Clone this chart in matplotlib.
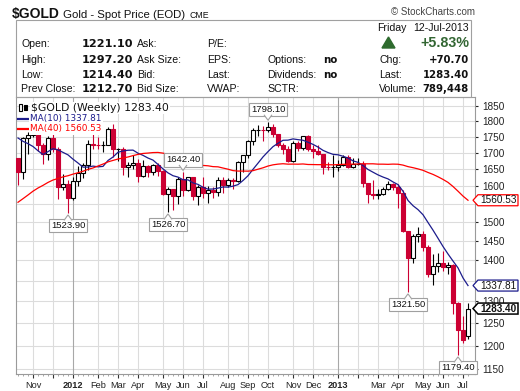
import matplotlib
matplotlib.use('Agg')
import matplotlib.pyplot as plt
from matplotlib.patches import Polygon, Rectangle
from matplotlib.lines import Line2D
from matplotlib.ticker import FixedLocator, NullLocator

plt.rcParams['font.family'] = ['Liberation Sans', 'DejaVu Sans']

# ---------------- data: $GOLD weekly, week of 17-Oct-2011 .. week of 08-Jul-2013 ----------------
prior_close = 1683
opens = [1683, 1642, 1747, 1755, 1788, 1724, 1696, 1746, 1712, 1598,
         1606, 1566, 1616, 1639, 1664, 1726, 1725, 1724, 1725, 1776,
         1711, 1711, 1656, 1662, 1668, 1631, 1659, 1642, 1663, 1644,
         1579, 1592, 1572, 1622, 1590, 1627, 1572, 1598, 1580, 1589,
         1583, 1618, 1604, 1619, 1617, 1672, 1692, 1737, 1771, 1773,
         1772, 1780, 1758, 1724, 1711, 1676, 1731, 1714, 1751, 1712,
         1705, 1696, 1657, 1656, 1656, 1662, 1687, 1658, 1667, 1667,
         1609, 1578, 1576, 1577, 1592, 1608, 1598, 1581, 1476, 1405,
         1462, 1469, 1435, 1365, 1387, 1393, 1383, 1388, 1297, 1234,
         1221.1]
highs = [1685, 1748, 1766, 1802, 1797, 1730, 1753, 1763, 1717, 1637,
         1619, 1626, 1660, 1670, 1741, 1764, 1750, 1737, 1782, 1792,
         1714, 1717, 1671, 1692, 1680, 1677, 1662, 1667, 1669, 1647,
         1598, 1594, 1627, 1642.4, 1628, 1628, 1605, 1626, 1600, 1597,
         1628, 1628, 1624, 1625, 1675, 1693, 1741, 1778, 1788, 1786,
         1798.1, 1791, 1760, 1730, 1722, 1738, 1738, 1754, 1755, 1723,
         1723, 1697, 1673, 1693, 1679, 1694, 1693, 1684, 1685, 1674,
         1611, 1620, 1592, 1597, 1616, 1611, 1606, 1589, 1477, 1469,
         1488, 1475, 1440, 1417, 1420, 1424, 1397, 1391, 1299, 1267,
         1297.2]
lows = [1604, 1621, 1697, 1749, 1706, 1667, 1678, 1703, 1563, 1590,
        1523.9, 1562, 1600, 1625, 1648, 1711, 1713, 1704, 1724, 1688,
        1674, 1634, 1627, 1651, 1613, 1627, 1626, 1632, 1631, 1576,
        1526.7, 1532, 1549, 1573, 1587, 1562, 1547, 1566, 1554, 1566,
        1573, 1582, 1598, 1593, 1613, 1641, 1683, 1723, 1752, 1738,
        1764, 1750, 1718, 1697, 1673, 1673, 1705, 1709, 1705, 1684,
        1692, 1636, 1647, 1626, 1645, 1661, 1653, 1654, 1662, 1598,
        1554, 1565, 1563, 1574, 1590, 1590, 1539, 1474, 1321.5, 1394,
        1448, 1423, 1359, 1338, 1372, 1373, 1366, 1270, 1179.4, 1207,
        1214.4]
closes = [1642, 1747, 1755, 1788, 1724, 1696, 1746, 1712, 1598, 1606,
          1566, 1616, 1639, 1664, 1726, 1725, 1724, 1725, 1776, 1711,
          1711, 1656, 1662, 1668, 1631, 1659, 1642, 1663, 1644, 1579,
          1592, 1572, 1622, 1590, 1627, 1572, 1598, 1580, 1589, 1583,
          1618, 1604, 1619, 1617, 1672, 1692, 1737, 1771, 1773, 1772,
          1780, 1758, 1724, 1711, 1676, 1731, 1714, 1751, 1712, 1705,
          1696, 1657, 1656, 1656, 1662, 1687, 1658, 1667, 1667, 1609,
          1578, 1576, 1577, 1592, 1608, 1598, 1581, 1476, 1405, 1462,
          1469, 1435, 1365, 1387, 1393, 1383, 1388, 1297, 1234, 1212.7,
          1283.4]
ma10 = [1746.2, 1735.7, 1728.4, 1719.6, 1706.4, 1694.7, 1703.7, 1712.9, 1709.1, 1701.4,
        1693.8, 1680.7, 1669.1, 1656.7, 1656.9, 1659.8, 1657.6, 1658.9, 1676.7, 1687.2,
        1701.7, 1705.7, 1708.0, 1708.4, 1698.9, 1692.3, 1684.1, 1677.9, 1664.7, 1651.5,
        1639.6, 1631.2, 1627.2, 1619.4, 1619.0, 1610.3, 1605.9, 1597.6, 1592.1, 1592.5,
        1595.1, 1598.3, 1598.0, 1600.7, 1605.2, 1617.2, 1631.1, 1650.2, 1668.6, 1687.5,
        1703.7, 1719.1, 1729.6, 1739.0, 1739.4, 1743.3, 1741.0, 1739.0, 1732.9, 1726.2,
        1717.8, 1707.7, 1700.9, 1695.4, 1694.0, 1689.6, 1684.0, 1675.6, 1671.1, 1661.5,
        1649.7, 1641.6, 1633.7, 1627.3, 1621.9, 1613.0, 1605.3, 1586.2, 1560.0, 1545.3,
        1534.4, 1520.3, 1499.1, 1478.6, 1457.1, 1435.6, 1416.3, 1398.4, 1381.3, 1356.4,
        1337.81]
ma40 = [1554.9, 1565.0, 1575.4, 1586.3, 1595.4, 1603.1, 1611.6, 1618.6, 1623.1, 1627.8,
        1631.2, 1635.9, 1640.0, 1644.5, 1650.0, 1654.2, 1660.1, 1665.9, 1672.5, 1676.9,
        1681.1, 1684.3, 1687.3, 1691.5, 1695.2, 1698.1, 1699.3, 1700.8, 1701.2, 1699.1,
        1695.3, 1688.3, 1683.2, 1676.0, 1670.3, 1664.3, 1662.8, 1661.8, 1660.7, 1658.2,
        1657.6, 1654.0, 1650.6, 1646.3, 1645.0, 1644.9, 1644.7, 1646.2, 1650.5, 1654.7,
        1660.0, 1663.6, 1665.7, 1666.9, 1665.6, 1665.8, 1665.5, 1666.2, 1664.6, 1664.4,
        1664.1, 1664.1, 1663.9, 1663.6, 1664.4, 1665.1, 1665.5, 1665.6, 1666.2, 1666.9,
        1666.6, 1666.7, 1665.6, 1665.6, 1665.1, 1665.8, 1665.4, 1662.8, 1658.2, 1655.1,
        1651.4, 1647.2, 1640.8, 1635.1, 1628.1, 1620.4, 1611.7, 1599.8, 1586.3, 1572.3,
        1560.53]

month_pos = [3, 7, 11, 16, 20, 24, 29, 33, 37, 42, 46, 50, 55, 59, 64, 68, 72, 76, 81, 85, 89]
month_labels = ['Nov', '', '2012', 'Feb', 'Mar', 'Apr', 'May', 'Jun', 'Jul', 'Aug', 'Sep',
                'Oct', 'Nov', 'Dec', '2013', '', 'Mar', 'Apr', 'May', 'Jun', 'Jul']
year_pos = [11, 64]
yticks = [1150, 1200, 1250, 1300, 1350, 1400, 1450, 1500, 1550, 1600, 1650, 1700, 1750, 1800, 1850]
# labels that sit under the value tags on the right are not shown
ytick_hidden = [1350, 1550]

# swing highs/lows that are annotated (index, below?)
marks = [(10, True), (30, True), (33, False), (50, False), (78, True), (88, True)]

header_left = [('Open:', '1221.10'), ('High:', '1297.20'), ('Low:', '1214.40'), ('Prev Close:', '1212.70')]
header_mid = ['Ask:', 'Ask Size:', 'Bid:', 'Bid Size:']
header_pe = ['P/E:', 'EPS:', 'Last:', 'VWAP:']
header_opt = [('Options:', 'no'), ('Dividends:', 'no'), ('SCTR:', '')]
header_right = [('Chg:', '+70.70'), ('Last:', '1283.40'), ('Volume:', '789,448')]

RED = '#CC0033'
NAVY = '#1C1C8C'
GRID = '#DCDCDC'

W, H = 520, 391
fig = plt.figure(figsize=(W / 100, H / 100), dpi=100)


def fxy(x, y):
    # pixel (from top-left) -> figure fraction
    return (x / W, 1 - y / H)


ax = fig.add_axes([16 / W, 1 - 374 / H, 459 / W, 277 / H])
ax.set_yscale('log')
ax.set_xlim(-0.4, 91.4)
ax.set_ylim(1140.4, 1880.3)

# grid
for v in yticks:
    ax.axhline(v, color=GRID, lw=0.8, zorder=0)
for p in month_pos:
    ax.axvline(p, color='#A8A8A8' if p in year_pos else GRID, lw=0.8, zorder=0)

# candles
x = list(range(len(closes)))
prev = [prior_close] + closes[:-1]
cols = [RED if c < p else 'black' for c, p in zip(closes, prev)]
ax.vlines(x, lows, highs, colors=cols, lw=0.8, zorder=2)
bottoms = [min(o, c) for o, c in zip(opens, closes)]
heights = [abs(c - o) for o, c in zip(opens, closes)]
faces = ['white' if c > o else col for o, c, col in zip(opens, closes, cols)]
ax.bar(x, heights, bottom=bottoms, width=0.72, color=faces, edgecolor=cols, lw=0.8, zorder=3)

# moving averages
ax.plot(x, ma10, color=NAVY, lw=0.9, zorder=4)
ax.plot(x, ma40, color='#FF0000', lw=0.9, zorder=4)

# axes styling
ax.yaxis.tick_right()
ax.yaxis.set_major_locator(FixedLocator(yticks))
ax.yaxis.set_minor_locator(NullLocator())
ax.set_yticklabels(['' if v in ytick_hidden else str(v) for v in yticks])
ax.tick_params(axis='y', length=2, pad=3, labelsize=7.2, colors='#222222')
ax.set_xticks(month_pos)
ax.set_xticklabels(month_labels)
ax.set_xticks(x, minor=True)
ax.tick_params(axis='x', which='major', length=3, pad=2, labelsize=6.6, colors='#333333')
ax.tick_params(axis='x', which='minor', length=1.5, colors='#999999')
for t in ax.get_xticklabels():
    t.set_color('#222222')
    if t.get_text() in ('2012', '2013'):
        t.set_fontweight('bold')
for s in ax.spines.values():
    s.set_color('#9A9A9A')
    s.set_linewidth(0.8)

inv = fig.transFigure.inverted()


def disp_to_fig(pts):
    return inv.transform(pts)


# swing high / low labels
for i, below in marks:
    price = lows[i] if below else highs[i]
    xp, yp = ax.transData.transform((i, price))
    if below:
        cy = yp - 12
        tri = [(xp - 4, yp - 7), (xp, yp - 1.5), (xp + 4, yp - 7)]
    else:
        cy = yp + 12
        tri = [(xp - 4, yp + 7), (xp, yp + 1.5), (xp + 4, yp + 7)]
    tx, ty = disp_to_fig([(xp, cy)])[0]
    fig.text(tx, ty, f'{price:.2f}', ha='center', va='center', fontsize=6.8, color='#111111',
             bbox=dict(boxstyle='square,pad=0.22', fc='white', ec='#A0A0A0', lw=0.8), zorder=6)
    fig.add_artist(Polygon(disp_to_fig(tri), closed=False, fc='white', ec='#A0A0A0', lw=0.8,
                           transform=fig.transFigure, zorder=7))

# right-hand value tags
xr = ax.transAxes.transform((1, 0))[0]
for price, ec, bold in [(ma40[-1], '#FF0000', False), (ma10[-1], NAVY, False), (closes[-1], 'black', True)]:
    yd = ax.transData.transform((0, price))[1]
    pts = [(xr - 2, yd), (xr + 3, yd + 5.5), (xr + 43, yd + 5.5), (xr + 43, yd - 5.5), (xr + 3, yd - 5.5)]
    fig.add_artist(Polygon(disp_to_fig(pts), closed=True, fc='white', ec=ec, lw=1.1 if bold else 0.9,
                           transform=fig.transFigure, zorder=5))
    tx, ty = disp_to_fig([(xr + 23.5, yd)])[0]
    fig.text(tx, ty, f'{price:.2f}', ha='center', va='center', fontsize=7.2,
             fontweight='bold' if bold else 'normal', color='#111111', zorder=6)

# in-chart legend
wb = dict(boxstyle='square,pad=0.12', fc='white', ec='none')
fig.add_artist(Rectangle(fxy(19, 111), 3 / W, 7 / H, transform=fig.transFigure, fc='white', ec='black', lw=0.8, zorder=5))
fig.add_artist(Rectangle(fxy(24, 110), 3 / W, 5 / H, transform=fig.transFigure, fc='black', ec='black', lw=0.8, zorder=5))
fig.text(*fxy(31, 108), f'$GOLD (Weekly) {closes[-1]:.2f}', fontsize=7.8, family='DejaVu Sans',
         va='center', color='#111111', bbox=wb, zorder=6)
for yy, lab, col in [(119, f'MA(10) {ma10[-1]:.2f}', NAVY), (129, f'MA(40) {ma40[-1]:.2f}', '#FF0000')]:
    fig.add_artist(Line2D([18 / W, 28 / W], [1 - yy / H, 1 - yy / H], color=col, lw=1.6,
                          transform=fig.transFigure, zorder=6))
    fig.text(*fxy(30, yy), lab, fontsize=6.4, family='DejaVu Sans', va='center', color=col,
             bbox=wb, zorder=6)

# ---------------- header ----------------
fig.text(*fxy(12, 14), '$GOLD', fontsize=10, fontweight='bold', va='center', color='#111111')
fig.text(*fxy(63, 15), 'Gold - Spot Price (EOD)', fontsize=8.2, va='center', color='#111111')
fig.text(*fxy(190, 15.5), 'CME', fontsize=6.3, va='center', color='#111111')
fig.text(*fxy(475, 12), '\u00a9 StockCharts.com', fontsize=7, va='center', ha='right', color='#444444')
fig.add_artist(Rectangle(fxy(16, 97), 455 / W, 77 / H, transform=fig.transFigure,
                         fill=False, ec='#A0A0A0', lw=0.8))

fig.text(*fxy(377, 28), 'Friday', fontsize=7.6, va='center', color='#111111')
fig.text(*fxy(469, 28), '12-Jul-2013', fontsize=7.6, va='center', ha='right', color='#111111')
fig.add_artist(Polygon([fxy(382, 48), fxy(395, 48), fxy(388.5, 37)], closed=True,
                       transform=fig.transFigure, fc='#2E6B2E', ec='#2E6B2E'))
fig.text(*fxy(469, 43), '+5.83%', fontsize=10.3, fontweight='bold', va='center', ha='right', color='#336633')

rows = [44, 60, 75, 89]
for yy, (lab, val) in zip(rows, header_left):
    fig.text(*fxy(21, yy), lab, fontsize=7.6, va='center', color='#111111')
    fig.text(*fxy(82, yy), val, fontsize=8.1, family='DejaVu Sans', fontweight='bold',
             va='center', color='#111111')
for yy, lab in zip(rows, header_mid):
    fig.text(*fxy(137, yy), lab, fontsize=7.6, va='center', color='#111111')
for yy, lab in zip(rows, header_pe):
    fig.text(*fxy(207, yy), lab, fontsize=7.6, va='center', color='#111111')
for yy, (lab, val) in zip(rows[1:], header_opt):
    fig.text(*fxy(267, yy), lab, fontsize=7.6, va='center', color='#111111')
    fig.text(*fxy(323, yy), val, fontsize=7.4, family='DejaVu Sans', fontweight='bold',
             va='center', color='#111111')
for yy, (lab, val) in zip(rows[1:], header_right):
    fig.text(*fxy(379, yy), lab, fontsize=7.6, va='center', color='#111111')
    fig.text(*fxy(469, yy), val, fontsize=7.3, family='DejaVu Sans', fontweight='bold',
             va='center', ha='right', color='#111111')

fig.savefig('out.png', dpi=100)
